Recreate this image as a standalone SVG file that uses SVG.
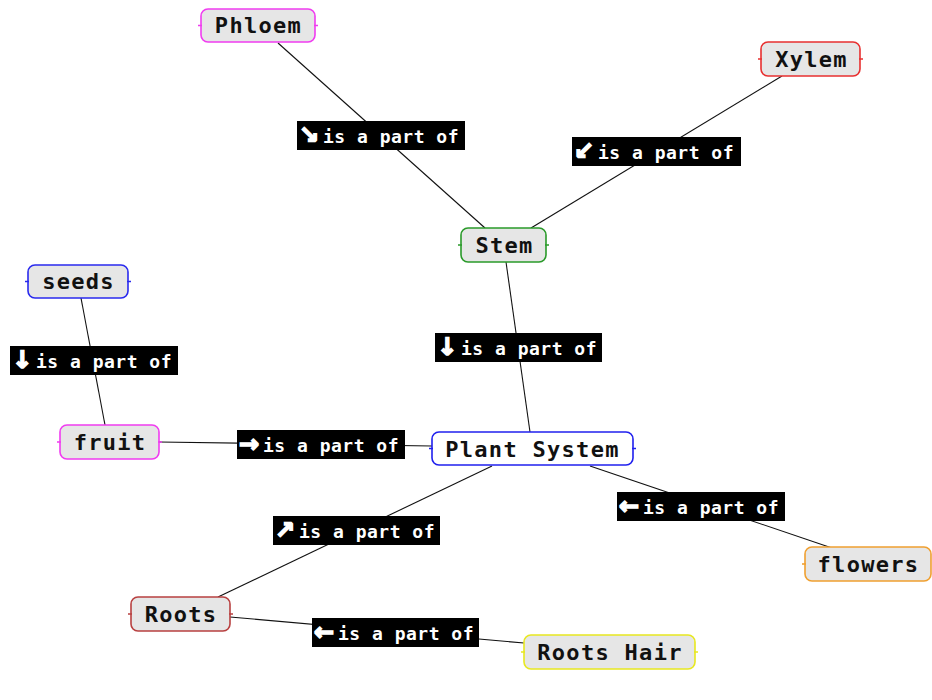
<svg xmlns="http://www.w3.org/2000/svg" width="932" height="700" viewBox="0 0 932 700">
<style>
.node rect{fill:#e6e6e6;stroke-width:1.6}
.node text{font-family:"DejaVu Sans Mono","Liberation Mono",monospace;font-size:22px;font-weight:bold;letter-spacing:1.3px;fill:#111;text-anchor:middle}
.tick{stroke-width:1.6}
.conn line{stroke:#111;stroke-width:1.1}
.lbl rect{fill:#000}
.lbl text{fill:#fff;font-family:"DejaVu Sans Mono","Liberation Mono",monospace;font-size:18px;font-weight:bold;letter-spacing:0.5px}
.lbl .ar{font-family:"DejaVu Sans",sans-serif;font-size:24px;font-weight:bold;letter-spacing:0;stroke:#fff;stroke-width:1.6}
</style>
<rect width="932" height="700" fill="#fff"/>
<g id="connectors" class="conn">
<line x1="278" y1="43" x2="485" y2="228"/>
<line x1="782" y1="76" x2="531" y2="228"/>
<line x1="506" y1="262" x2="530" y2="432"/>
<line x1="81" y1="298" x2="105" y2="425"/>
<line x1="159" y1="442" x2="432" y2="446"/>
<line x1="492" y1="466" x2="218" y2="597"/>
<line x1="590" y1="466" x2="832" y2="548"/>
<line x1="230" y1="617" x2="524" y2="643"/>
</g>
<g id="labels">
<g class="lbl"><rect x="297" y="121" width="168" height="29"/><text x="299" y="143"><tspan class="ar">↘</tspan><tspan x="323">is a part of</tspan></text></g>
<g class="lbl"><rect x="572" y="137" width="169" height="29"/><text x="574" y="159"><tspan class="ar">↙</tspan><tspan x="598">is a part of</tspan></text></g>
<g class="lbl"><rect x="435" y="333" width="167" height="29"/><text x="437" y="355"><tspan class="ar">↓</tspan><tspan x="461">is a part of</tspan></text></g>
<g class="lbl"><rect x="10" y="346" width="168" height="29"/><text x="12" y="368"><tspan class="ar">↓</tspan><tspan x="36">is a part of</tspan></text></g>
<g class="lbl"><rect x="237" y="430" width="168" height="29"/><text x="239" y="452"><tspan class="ar">→</tspan><tspan x="263">is a part of</tspan></text></g>
<g class="lbl"><rect x="273" y="516" width="167" height="29"/><text x="275" y="538"><tspan class="ar">↗</tspan><tspan x="299">is a part of</tspan></text></g>
<g class="lbl"><rect x="617" y="492" width="168" height="29"/><text x="619" y="514"><tspan class="ar">←</tspan><tspan x="643">is a part of</tspan></text></g>
<g class="lbl"><rect x="312" y="618" width="167" height="29"/><text x="314" y="640"><tspan class="ar">←</tspan><tspan x="338">is a part of</tspan></text></g>
</g>
<g id="node-phloem" class="node"><rect x="201" y="9" width="114" height="33" rx="7" stroke="#f03cf0"/><path class="tick" d="M198 25.5h4M314 25.5h4" stroke="#f03cf0"/><text x="258.5" y="33">Phloem</text></g>
<g id="node-xylem" class="node"><rect x="761" y="42" width="99" height="34" rx="7" stroke="#e83030"/><path class="tick" d="M758 59h4M859 59h4" stroke="#e83030"/><text x="811.5" y="67">Xylem</text></g>
<g id="node-stem" class="node"><rect x="461" y="228" width="85" height="34" rx="7" stroke="#2a9a2a"/><path class="tick" d="M458 245h4M545 245h4" stroke="#2a9a2a"/><text x="504.5" y="253">Stem</text></g>
<g id="node-seeds" class="node"><rect x="28" y="265" width="100" height="33" rx="7" stroke="#2a2aee"/><path class="tick" d="M25 281.5h4M127 281.5h4" stroke="#2a2aee"/><text x="78.5" y="289">seeds</text></g>
<g id="node-fruit" class="node"><rect x="60" y="425" width="99" height="34" rx="7" stroke="#f03cf0"/><path class="tick" d="M57 442h4M158 442h4" stroke="#f03cf0"/><text x="110" y="450">fruit</text></g>
<g id="node-plant" class="node"><rect x="432" y="432" width="201" height="33" rx="7" stroke="#2020ee" style="fill:#fff"/><path class="tick" d="M429 448.5h4M632 448.5h4" stroke="#2020ee"/><text x="532.5" y="457">Plant System</text></g>
<g id="node-flowers" class="node"><rect x="805" y="547" width="126" height="34" rx="7" stroke="#f0a030"/><path class="tick" d="M802 564h4" stroke="#f0a030"/><text x="868.5" y="572">flowers</text></g>
<g id="node-roots" class="node"><rect x="131" y="597" width="99" height="34" rx="7" stroke="#b84040"/><path class="tick" d="M128 614h4M229 614h4" stroke="#b84040"/><text x="181" y="622">Roots</text></g>
<g id="node-roothair" class="node"><rect x="524" y="635" width="171" height="34" rx="7" stroke="#e8e820"/><path class="tick" d="M521 652h4M694 652h4" stroke="#e8e820"/><text x="610" y="660">Roots Hair</text></g>
</svg>
